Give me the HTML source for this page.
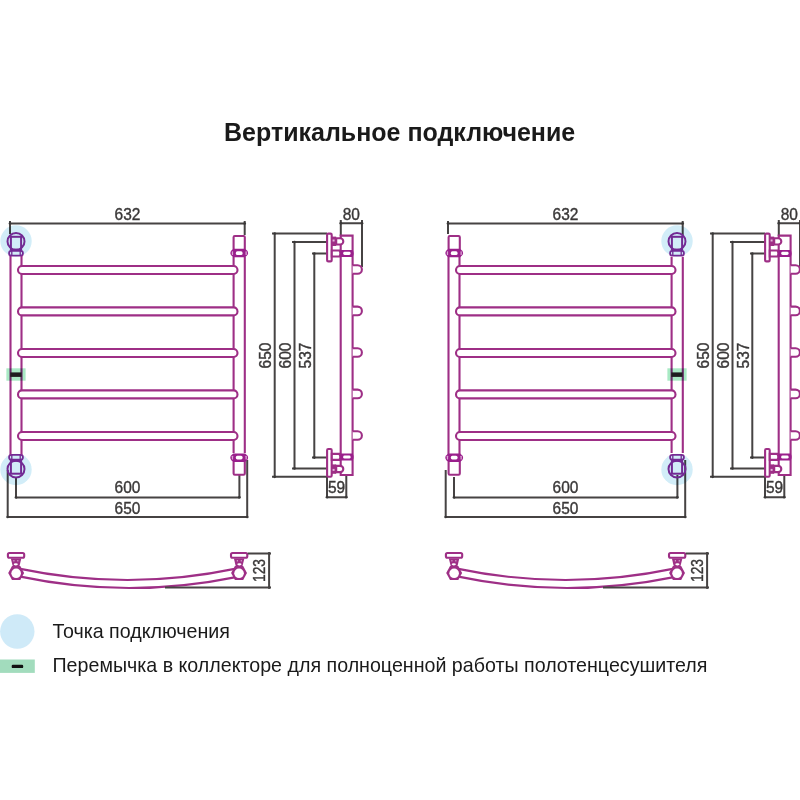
<!DOCTYPE html>
<html>
<head>
<meta charset="utf-8">
<style>
html,body{margin:0;padding:0;background:#fff;width:800px;height:800px;overflow:hidden;}
svg{position:absolute;left:0;top:0;}
.m{fill:none;stroke:#9e2f86;stroke-width:2.1;}
.mw{fill:#fff;stroke:#9e2f86;stroke-width:2.1;}
.v{fill:none;stroke:#8a2d98;stroke-width:2;}
.d{fill:none;stroke:#464343;stroke-width:2;}
.n{font-family:"Liberation Sans",sans-serif;font-size:17.2px;fill:#3a3838;stroke:#3a3838;stroke-width:0.4px;}
.t{font-family:"Liberation Sans",sans-serif;fill:#1a1a1a;}
.mb{mix-blend-mode:multiply;}
</style>
</head>
<body>
<svg width="800" height="800" viewBox="0 0 800 800">
<defs>
  <!-- rail pill -->
  <path id="rail" class="mw" d="M22,266 H233.5 A4,4 0 0 1 233.5,274 H22 A4,4 0 0 1 22,266 Z"/>

  <!-- valve fitting (connection point), top version at collector centre x=16 -->
  <g id="valveTop">
    <ellipse class="v" cx="16" cy="241.4" rx="8.5" ry="8.4" stroke-width="2"/>
    <rect class="v" x="10.9" y="236.8" width="10.2" height="13" stroke-width="1.8"/>
    <rect x="9.1" y="250.8" width="13.8" height="4.9" rx="2.2" fill="#fff" stroke="#8a2d98" stroke-width="1.8"/>
    <path d="M11.8,250.8 V255.7 M20.2,250.8 V255.7" stroke="#8a2d98" stroke-width="1.3"/>
  </g>
  <g id="blueTop">
    <circle cx="16" cy="241" r="15.7" fill="#d2edf8" class="mb"/>
  </g>

  <!-- cap fitting, top version at collector x 233.5..244.5 -->
  <g id="capTop">
    <rect class="m" x="233.6" y="236" width="11.2" height="14" rx="1.2" fill="#fff"/>
    <path d="M233.2,248.7 H245.2 Q251,253 245.2,257.2 H233.2 Q227.4,253 233.2,248.7 Z" fill="#9a1f8c"/>
    <rect x="231.8" y="251.2" width="1.3" height="3.8" rx="0.6" fill="#d9a6d2"/>
    <rect x="245.5" y="251.2" width="1.3" height="3.8" rx="0.6" fill="#d9a6d2"/>
    <rect x="235.8" y="251.3" width="6.8" height="3.7" rx="1.6" fill="#fff"/>
  </g>

  <g id="common">
    <!-- collectors -->
    <path class="m" d="M10.5,256 V455 M21.5,256 V455 M233.6,257 V453 M244.8,257 V453"/>
    <use href="#rail"/>
    <use href="#rail" transform="translate(0,41.4)"/>
    <use href="#rail" transform="translate(0,83)"/>
    <use href="#rail" transform="translate(0,124.4)"/>
    <use href="#rail" transform="translate(0,166)"/>
    <!-- front dims -->
    <path class="d" d="M10,234 V221 M10,223.5 H244.7 M244.7,221 V235"/>
    <path class="d" d="M16,477 V498 M16,497.4 H239.4 M239.4,475 V498"/>
    <path class="d" d="M7.7,470 V518 M7.7,517 H247.2 M247.2,460 V518"/>
    <text class="n" transform="translate(127.5,220) scale(0.9,1)" text-anchor="middle">632</text>
    <text class="n" transform="translate(127.5,493.3) scale(0.9,1)" text-anchor="middle">600</text>
    <text class="n" transform="translate(127.5,513.6) scale(0.9,1)" text-anchor="middle">650</text>

    <!-- side view dims -->
    <path class="d" d="M272,233.5 H327 M274.7,233.5 V476.8 M272,476.8 H327"/>
    <path class="d" d="M292,242 H327 M294.5,242 V468.5 M292,468.5 H327"/>
    <path class="d" d="M312,253.5 H327 M314.3,253.5 V457.6 M312,457.6 H327"/>
    <text class="n" transform="translate(271.2,355.5) rotate(-90) scale(0.9,1)" text-anchor="middle">650</text>
    <text class="n" transform="translate(290.9,355.5) rotate(-90) scale(0.9,1)" text-anchor="middle">600</text>
    <text class="n" transform="translate(311,355.5) rotate(-90) scale(0.9,1)" text-anchor="middle">537</text>
    <!-- 80 dim -->
    <path class="d" d="M340.8,220 V236 M340.8,223.2 H362 M362,220 V267"/>
    <text class="n" transform="translate(351.3,219.7) scale(0.9,1)" text-anchor="middle">80</text>
    <!-- 59 dim -->
    <path class="d" d="M327,477 V498 M327,497.2 H346.3 M346.3,475 V498"/>
    <text class="n" transform="translate(336.6,493) scale(0.9,1)" text-anchor="middle">59</text>

    <g fill="#3a3838"><circle cx="10" cy="223.5" r="1.35"/><circle cx="244.7" cy="223.5" r="1.35"/><circle cx="16" cy="497.4" r="1.35"/><circle cx="239.4" cy="497.4" r="1.35"/><circle cx="7.7" cy="517" r="1.35"/><circle cx="247.2" cy="517" r="1.35"/><circle cx="274.7" cy="233.5" r="1.35"/><circle cx="274.7" cy="476.8" r="1.35"/><circle cx="294.5" cy="242" r="1.35"/><circle cx="294.5" cy="468.5" r="1.35"/><circle cx="314.3" cy="253.5" r="1.35"/><circle cx="314.3" cy="457.6" r="1.35"/><circle cx="340.8" cy="223.2" r="1.35"/><circle cx="362" cy="223.2" r="1.35"/><circle cx="327" cy="497.2" r="1.35"/><circle cx="346.3" cy="497.2" r="1.35"/><circle cx="269.1" cy="553.4" r="1.35"/><circle cx="269.1" cy="587.6" r="1.35"/></g>
    <!-- side view body -->
    <path class="m" d="M340.7,235.6 H352.6 V475 H340.7 Z"/>
    <g id="bullets">
      <path class="mw" d="M352.6,265.2 H357.6 A4.3,4.3 0 0 1 357.6,273.8 H352.6"/>
    </g>
    <use href="#bullets" transform="translate(0,41.4)"/>
    <use href="#bullets" transform="translate(0,83)"/>
    <use href="#bullets" transform="translate(0,124.4)"/>
    <use href="#bullets" transform="translate(0,166)"/>
    <g id="sideTop">
      <rect class="m" x="327.1" y="233.6" width="4.6" height="27.8" rx="1.2" fill="#fff" stroke-width="1.9"/>
      <path d="M331.8,236.6 H336.2 V246 H331.8 Z" fill="#9e2f86"/>
      <rect x="332.6" y="239.5" width="2" height="2" fill="#e0b5da"/>
      <path class="mw" d="M336.2,238.3 H340.2 A3.1,3.1 0 0 1 340.2,244.5 H336.2 Z" stroke-width="1.9"/>
      <path class="mw" d="M331.8,250.5 H339.5 Q341.2,253.5 339.5,256.5 H331.8 Z" stroke-width="1.9"/>
      <path d="M340.4,249.9 H352.6 Q354.6,253.4 352.6,256.9 H340.4 Z" fill="#9a1f8c"/>
      <rect x="343.2" y="251.8" width="7.4" height="3.2" rx="1.4" fill="#fff"/>
    </g>
    <use href="#sideTop" transform="translate(0,710.4) scale(1,-1)"/>

    <!-- top view -->
    <path class="m" d="M19,568.6 Q127.5,591.4 236,568.6"/>
    <path class="m" d="M19,576.4 Q127.5,599.3 236,577.1"/>
    <g id="hexL">
      <rect class="m" x="7.9" y="553" width="16.3" height="4.8" rx="1.5" fill="#fff" stroke-width="1.8"/>
      <path d="M10.8,558.4 H21.3 L19.4,566.6 H12.8 Z" fill="#9e2f86"/>
      <ellipse cx="15.8" cy="564.3" rx="2.1" ry="1.1" fill="#fff"/>
      <rect x="13.3" y="560.2" width="1.2" height="1.2" fill="#dcb0d6"/>
      <rect x="17.2" y="560.2" width="1.2" height="1.2" fill="#dcb0d6"/>
      <path d="M8.2,573.1 L12,566 H20.3 L24.1,573.1 L20.3,580 H12 Z" fill="#9e2f86"/>
      <circle cx="16.15" cy="573.3" r="4.8" fill="#fff"/>
    </g>
    <use href="#hexL" transform="translate(255.2,0) scale(-1,1)"/>
    <path class="d" d="M247.8,553.4 H271 M269.1,553 V588 M165,587.6 H271"/>
    <text class="n" transform="translate(265.3,570.5) rotate(-90) scale(0.8,1)" text-anchor="middle">123</text>
  </g>
</defs>

<!-- title -->
<text class="t" x="224" y="140.5" font-size="25" font-weight="bold">Вертикальное подключение</text>

<!-- left diagram -->
<use href="#common"/>
<use href="#valveTop"/>
<use href="#valveTop" transform="translate(0,710.5) scale(1,-1)"/>
<use href="#capTop"/>
<use href="#capTop" transform="translate(0,710.75) scale(1,-1)"/>
<use href="#blueTop"/>
<use href="#blueTop" transform="translate(0,710.5) scale(1,-1)"/>
<rect x="6.4" y="368.3" width="19.2" height="12.4" fill="#a8eac4" class="mb"/>
<rect x="10.2" y="372.4" width="11.4" height="4.5" fill="#1e1e1e"/>

<!-- right diagram -->
<g transform="translate(438,0)">
  <use href="#common"/>
  <use href="#capTop" transform="translate(-223,0)"/>
  <use href="#capTop" transform="translate(-223,710.75) scale(1,-1)"/>
  <use href="#valveTop" transform="translate(223,0)"/>
  <use href="#valveTop" transform="translate(223,710.5) scale(1,-1)"/>
  <use href="#blueTop" transform="translate(223,0)"/>
  <use href="#blueTop" transform="translate(223,710.5) scale(1,-1)"/>
  <rect x="229.4" y="368.3" width="19.2" height="12.4" fill="#a8eac4" class="mb"/>
  <rect x="233.2" y="372.4" width="11.4" height="4.5" fill="#1e1e1e"/>
</g>

<!-- legend -->
<circle cx="17.3" cy="631.5" r="17.2" fill="#cfeaf8"/>
<rect x="0" y="659.5" width="34.8" height="13.4" fill="#a2dcbd"/>
<rect x="11.7" y="664.7" width="11.5" height="3.4" rx="1.2" fill="#111"/>
<text class="t" x="52.5" y="637.5" font-size="19.65">Точка подключения</text>
<text class="t" x="52.5" y="672" font-size="19.65">Перемычка в коллекторе для полноценной работы полотенцесушителя</text>
</svg>
</body>
</html>
